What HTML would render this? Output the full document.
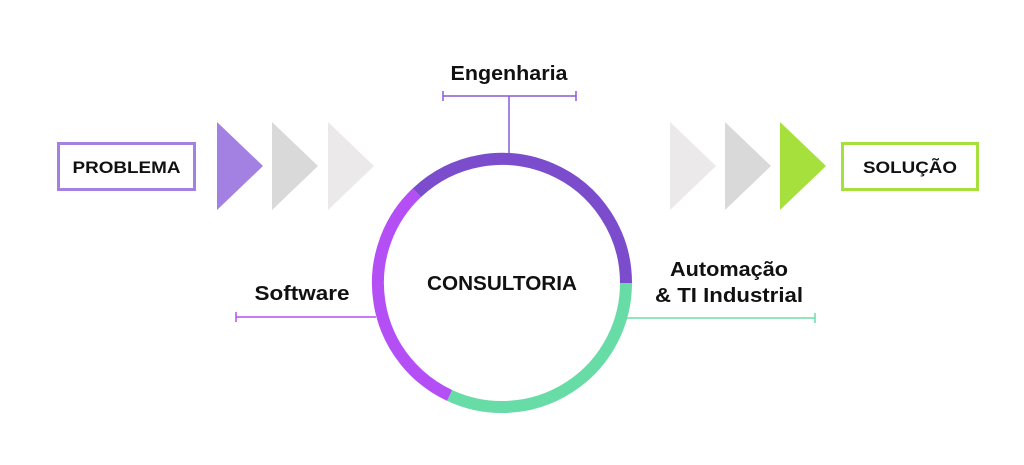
<!DOCTYPE html>
<html><head><meta charset="utf-8"><style>html,body{margin:0;padding:0;background:#fff;}svg{display:block}</style></head>
<body>
<svg width="1024" height="465" viewBox="0 0 1024 465" xmlns="http://www.w3.org/2000/svg" font-family="Liberation Sans, sans-serif" font-weight="bold">
<rect width="1024" height="465" fill="#fff"/>
<!-- left -->
<rect x="58.5" y="143.5" width="136" height="46" fill="none" stroke="#a281e2" stroke-width="3"/>
<text x="126.5" y="173" font-size="17" text-anchor="middle" textLength="108" lengthAdjust="spacingAndGlyphs" fill="#111">PROBLEMA</text>
<polygon points="217,122 263,166 217,210" fill="#a281e2"/>
<polygon points="272,122 318,166 272,210" fill="#d9d9d9"/>
<polygon points="328,122 374,166 328,210" fill="#ebe9ea"/>
<!-- right -->
<polygon points="670,122 716,166 670,210" fill="#ebe9ea"/>
<polygon points="725,122 771,166 725,210" fill="#d9d9d9"/>
<polygon points="780,122 826,166 780,210" fill="#a6e03c"/>
<rect x="842.5" y="143.5" width="135" height="46" fill="none" stroke="#a6e03c" stroke-width="3"/>
<text x="910" y="173" font-size="17" text-anchor="middle" textLength="94" lengthAdjust="spacingAndGlyphs" fill="#111">SOLUÇÃO</text>
<!-- engenharia -->
<text x="509" y="80" font-size="20" text-anchor="middle" textLength="117" lengthAdjust="spacingAndGlyphs" fill="#111">Engenharia</text>
<g stroke="#8a5ad6" stroke-width="1.5">
<line x1="443" y1="96" x2="576" y2="96"/><line x1="443" y1="91" x2="443" y2="101"/><line x1="576" y1="91" x2="576" y2="101"/>
<line x1="509" y1="96" x2="509" y2="158"/></g>
<!-- software -->
<text x="302" y="300" font-size="20" text-anchor="middle" textLength="95" lengthAdjust="spacingAndGlyphs" fill="#111">Software</text>
<g stroke="#b44ff5" stroke-width="1.5"><line x1="236" y1="317" x2="376" y2="317"/><line x1="236" y1="312" x2="236" y2="322"/></g>
<!-- automacao -->
<text x="729" y="276" font-size="20" text-anchor="middle" textLength="118" lengthAdjust="spacingAndGlyphs" fill="#111">Automação</text>
<text x="729" y="302" font-size="20" text-anchor="middle" textLength="148" lengthAdjust="spacingAndGlyphs" fill="#111">&amp; TI Industrial</text>
<g stroke="#6ddca6" stroke-width="1.5"><line x1="626" y1="318" x2="815" y2="318"/><line x1="815" y1="313" x2="815" y2="323"/></g>
<!-- circle -->
<circle cx="502" cy="283" r="118" fill="#fff"/>
<g fill="none" stroke-width="12">
<path d="M 416.8 192.8 A 124 124 0 0 1 626 283" stroke="#7b4ccb"/>
<path d="M 626 283 A 124 124 0 0 1 449.6 395.4" stroke="#68dca6"/>
<path d="M 449.6 395.4 A 124 124 0 0 1 416.8 192.8" stroke="#b44ff5"/>
</g>
<text x="502" y="290" font-size="20" text-anchor="middle" textLength="150" lengthAdjust="spacingAndGlyphs" fill="#111">CONSULTORIA</text>
</svg>
</body></html>
